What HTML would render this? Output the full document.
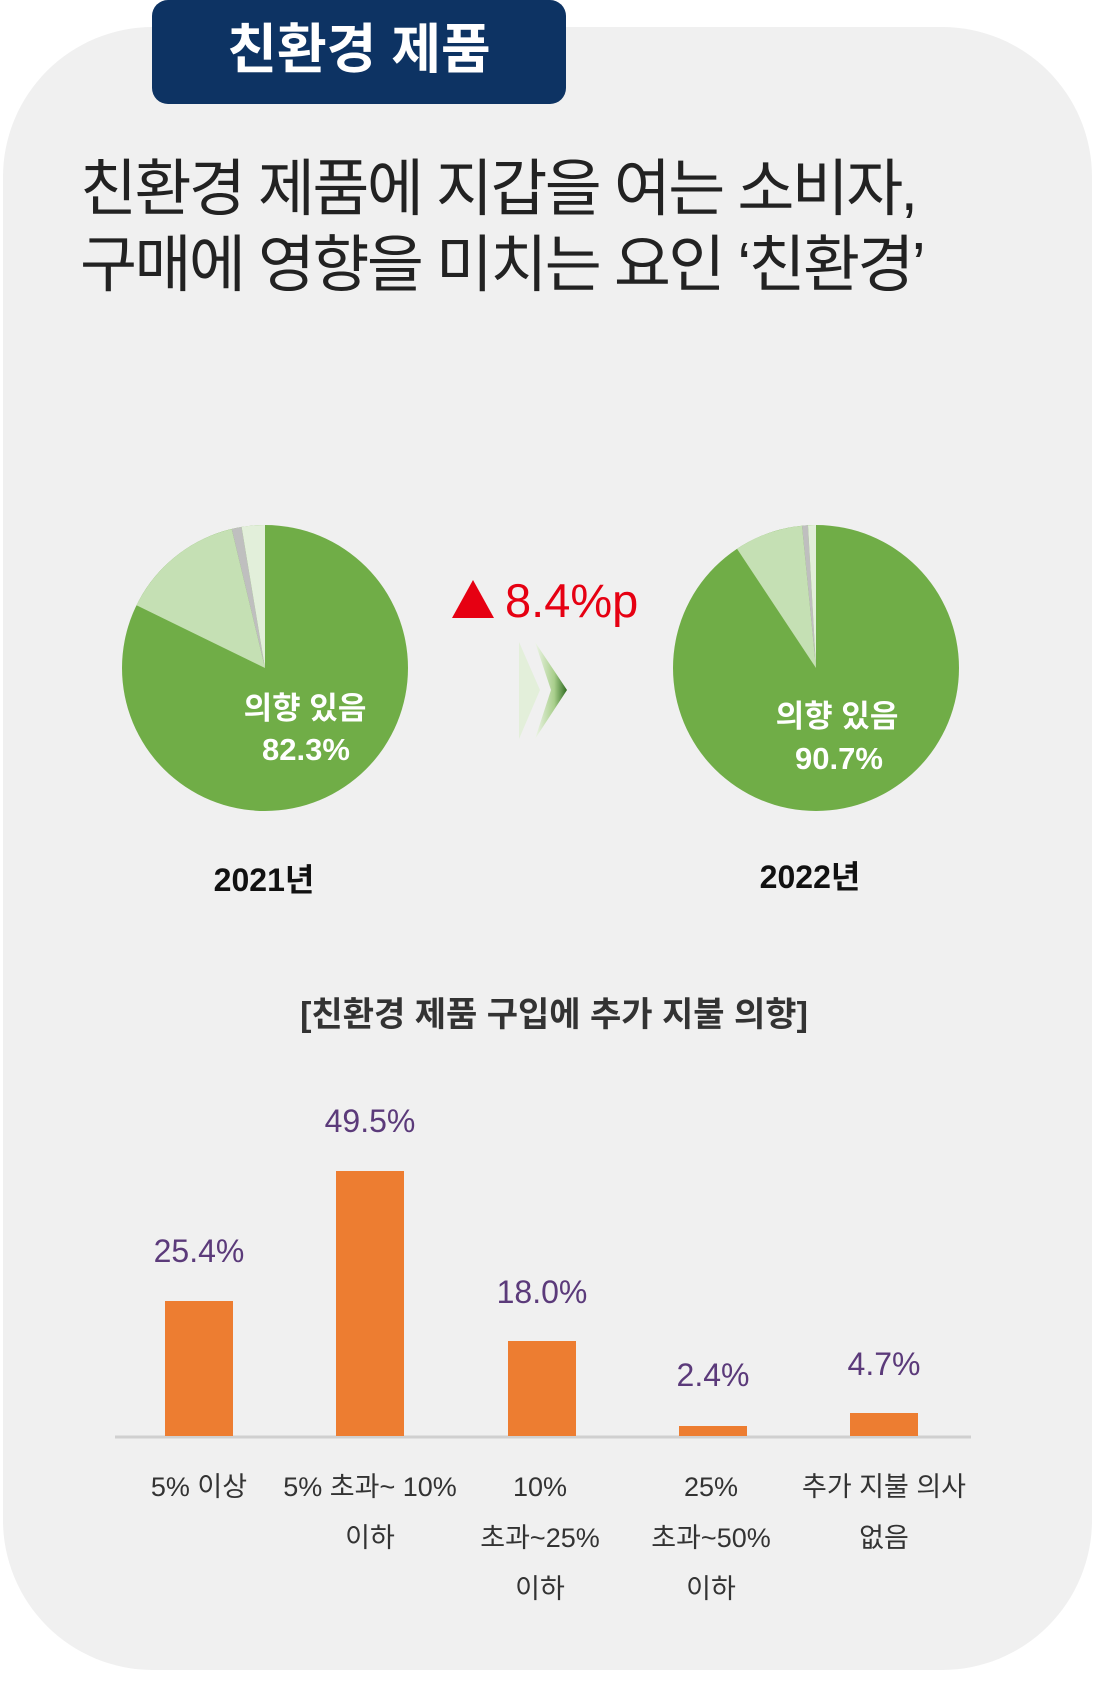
<!DOCTYPE html>
<html><head><meta charset="utf-8"><style>
body{margin:0;width:1096px;height:1682px;background:#fff;position:relative;overflow:hidden;font-family:"Liberation Sans","Noto Sans CJK KR",sans-serif}
.card{position:absolute;left:3px;top:27px;width:1089px;height:1643px;background:#f0f0f0;border-radius:150px}
.badge{position:absolute;left:152px;top:0;width:414px;height:104px;background:#0d3363;border-radius:16px;color:#fff;font-weight:bold;font-size:54px;text-align:center;line-height:100px}
.t{position:absolute;white-space:nowrap}
.c{transform:translateX(-50%);text-align:center}
</style></head><body>
<div class="card"></div>
<div class="badge">친환경 제품</div>
<div class="t" style="left:80px;top:152px;font-size:62px;color:#222;line-height:76px;letter-spacing:-2.6px">친환경 제품에 지갑을 여는 소비자,<br>구매에 영향을 미치는 요인 ‘친환경’</div>
<svg style="position:absolute;left:0;top:0" width="1096" height="1682">
<defs><linearGradient id="g" x1="0" x2="1"><stop offset="0" stop-color="#eef5e8"/><stop offset="0.6" stop-color="#a9cf8c"/><stop offset="1" stop-color="#2e6b1f"/></linearGradient></defs>
<circle cx="265" cy="668" r="143" fill="#70ad47"/>
<path d="M265 668 L136.5 605.3 A143 143 0 0 1 231.7 529.0 Z" fill="#c5e0b4"/>
<path d="M265 668 L231.7 529.0 A143 143 0 0 1 241.6 526.9 Z" fill="#bfbfbf"/>
<path d="M265 668 L241.6 526.9 A143 143 0 0 1 265 525 Z" fill="#e2efda"/>
<circle cx="816" cy="668" r="143" fill="#70ad47"/>
<path d="M816 668 L737 548.8 A143 143 0 0 1 802 525.7 Z" fill="#c5e0b4"/>
<path d="M816 668 L802 525.7 A143 143 0 0 1 808 525.2 Z" fill="#bfbfbf"/>
<path d="M816 668 L808 525.2 A143 143 0 0 1 816 525 Z" fill="#e2efda"/>
<polygon points="452,618 473,580 494,618" fill="#e60012"/>
<polygon points="519,642 540,690 519,739" fill="#e3efda"/>
<polygon points="535,642 567,690 535,739 551,690" fill="url(#g)"/>
<line x1="115" y1="1437" x2="971" y2="1437" stroke="#d0d0d0" stroke-width="3"/>
<g fill="#ed7d31">
<rect x="165" y="1301" width="68" height="135"/>
<rect x="336" y="1171" width="68" height="265"/>
<rect x="508" y="1341" width="68" height="95"/>
<rect x="679" y="1426" width="68" height="10"/>
<rect x="850" y="1413" width="68" height="23"/>
</g>
</svg>
<div class="t c" style="left:305px;top:683px;font-size:31px;font-weight:bold;color:#fff">의향 있음</div>
<div class="t c" style="left:306px;top:732px;font-size:31px;font-weight:bold;color:#fff">82.3%</div>
<div class="t c" style="left:837px;top:691px;font-size:31px;font-weight:bold;color:#fff">의향 있음</div>
<div class="t c" style="left:839px;top:741px;font-size:31px;font-weight:bold;color:#fff">90.7%</div>
<div class="t" style="left:505px;top:573px;font-size:47px;color:#e60012">8.4%p</div>
<div class="t c" style="left:264px;top:855px;font-size:32px;font-weight:bold;color:#111">2021년</div>
<div class="t c" style="left:810px;top:852px;font-size:32px;font-weight:bold;color:#111">2022년</div>
<div class="t c" style="left:554px;top:987px;font-size:34px;font-weight:bold;color:#333">[친환경 제품 구입에 추가 지불 의향]</div>
<div style="color:#5b3a7a;font-size:32px">
<div class="t c" style="left:199px;top:1233px">25.4%</div>
<div class="t c" style="left:370px;top:1103px">49.5%</div>
<div class="t c" style="left:542px;top:1274px">18.0%</div>
<div class="t c" style="left:713px;top:1357px">2.4%</div>
<div class="t c" style="left:884px;top:1346px">4.7%</div>
</div>
<div style="color:#333;font-size:27px;line-height:51px">
<div class="t c" style="left:199px;top:1462px">5% 이상</div>
<div class="t c" style="left:370px;top:1462px">5% 초과~ 10%<br>이하</div>
<div class="t c" style="left:540px;top:1462px">10%<br>초과~25%<br>이하</div>
<div class="t c" style="left:711px;top:1462px">25%<br>초과~50%<br>이하</div>
<div class="t c" style="left:884px;top:1462px">추가 지불 의사<br>없음</div>
</div>
</body></html>
